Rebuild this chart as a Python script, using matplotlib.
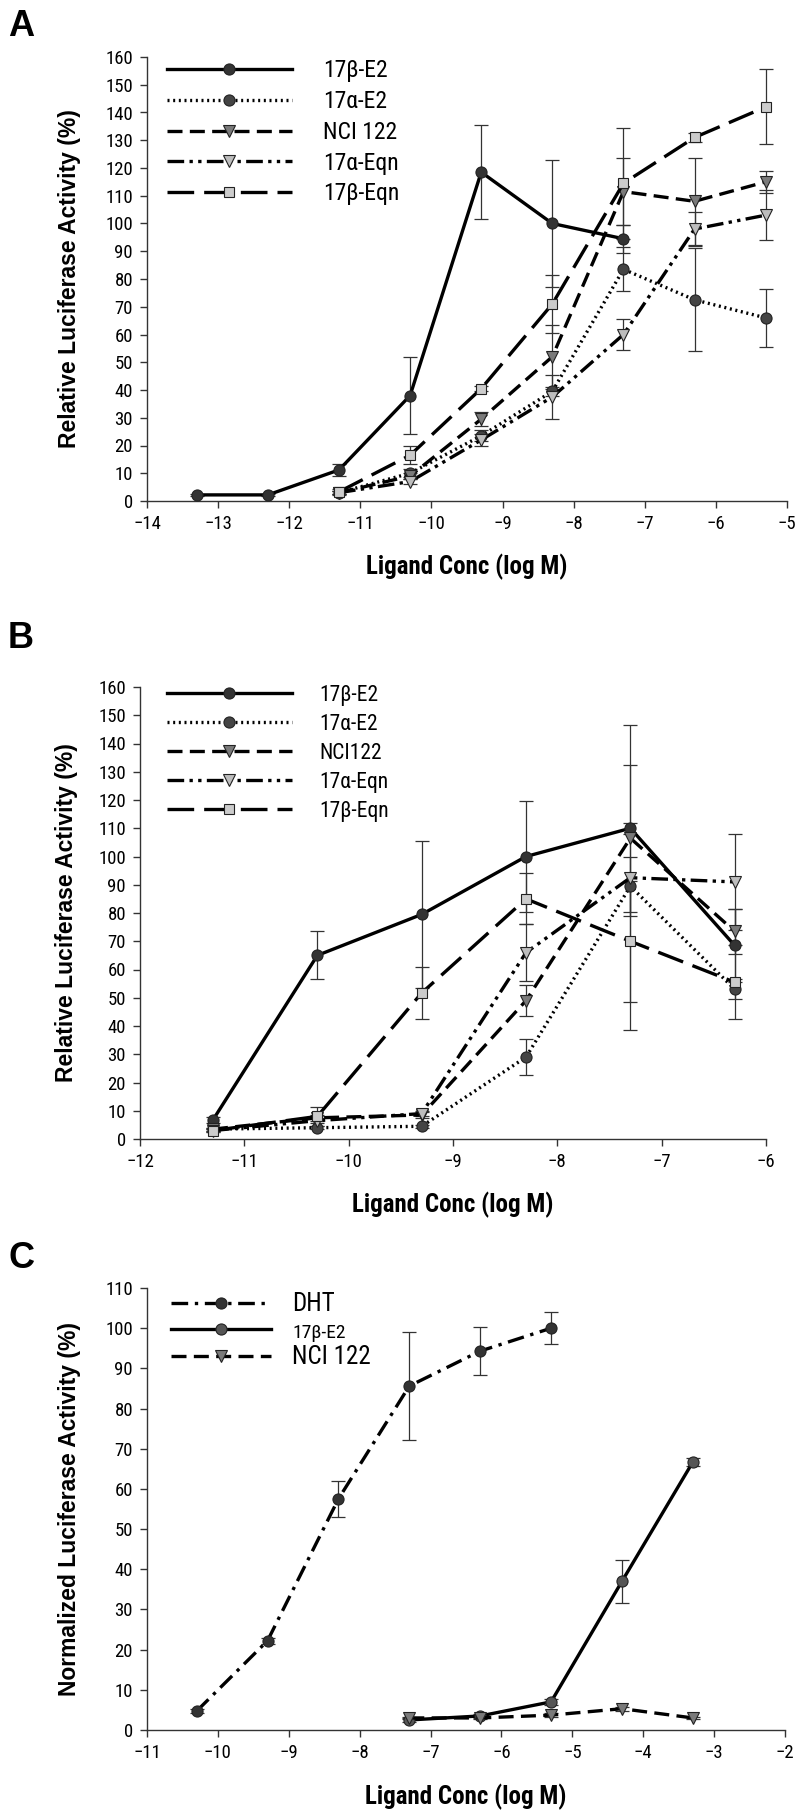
import numpy as np
import matplotlib.pyplot as plt
from matplotlib import font_manager as fm

# the original uses an Arial Narrow look; take a condensed face if one exists
names = {f.name for f in fm.fontManager.ttflist}
narrow = [n for n in ['Liberation Sans Narrow', 'Roboto Condensed', 'DejaVu Sans Condensed',
                      'Open Sans Condensed', 'Noto Sans Condensed'] if n in names]
plt.rcParams['font.family'] = narrow[:1] + ['Liberation Sans', 'DejaVu Sans']
BOLD_FAM = ['Liberation Sans', 'DejaVu Sans']

# ---- panel A data (log M, % activity, error)
a_x_e2b = [-13.3, -12.3, -11.3, -10.3, -9.3, -8.3, -7.3]
a_e2b = [2.2, 2.2, 11.2, 38, 118.5, 100, 94.5]
a_e2b_err = [0.5, 0.5, 2.2, 13.8, 17, 23, 5]
a_x = [-11.3, -10.3, -9.3, -8.3, -7.3, -6.3, -5.3]
a_e2a = [3, 10, 23.5, 39.5, 83.5, 72.5, 66]
a_e2a_err = [0.5, 1.5, 2, 1.5, 8, 18.5, 10.5]
a_nci = [3, 9, 29.5, 52, 111.5, 108, 115]
a_nci_err = [0.5, 1, 2.5, 11.5, 12, 15.7, 4]
a_eqna = [3, 7, 22, 37.5, 60, 98, 103]
a_eqna_err = [0.5, 1, 2, 8, 5.5, 6, 9]
a_eqnb = [3.3, 16.5, 40.5, 71, 114.5, 131, 142]
a_eqnb_err = [1, 3.2, 1, 10.5, 20, 1.5, 13.5]

# ---- panel B data
b_x = [-11.3, -10.3, -9.3, -8.3, -7.3, -6.3]
b_e2b = [6.8, 65, 79.5, 100, 110, 68.5]
b_e2b_err = [1, 8.5, 26, 19.5, 2, 13]
b_e2a = [3.5, 4, 4.5, 29, 89.5, 53]
b_e2a_err = [0.5, 0.5, 0.5, 6.3, 10.4, 3.5]
b_nci = [3.5, 7.5, 8.5, 49, 106.5, 73.5]
b_nci_err = [0.5, 1, 1, 5.5, 26, 8]
b_eqna = [3, 6.5, 9, 66, 92.5, 91]
b_eqna_err = [0.5, 1, 1, 10, 54, 17]
b_eqnb = [3, 8, 51.7, 85, 70, 55.5]
b_eqnb_err = [0.5, 3.5, 9.3, 9, 21.5, 13]

# ---- panel C data
c_x_dht = [-10.3, -9.3, -8.3, -7.3, -6.3, -5.3]
c_dht = [4.7, 22.2, 57.5, 85.6, 94.3, 100]
c_dht_err = [0.5, 0.8, 4.5, 13.5, 6, 4]
c_x = [-7.3, -6.3, -5.3, -4.3, -3.3]
c_e2b = [2.5, 3.5, 7, 37, 66.7]
c_e2b_err = [0.5, 0.5, 0.8, 5.3, 1]
c_nci = [3, 3, 3.7, 5.3, 3]
c_nci_err = [0.3, 0.3, 0.5, 0.5, 0.3]

LW = 2.4
styles = {
    'e2b': dict(ls='-', marker='o', mfc='#333333'),
    'e2a': dict(ls=(0, (0.6, 1.1)), marker='o', mfc='#444444'),
    'nci': dict(ls=(0, (4.5, 2.2)), marker='v', mfc='#7a7a7a'),
    'eqna': dict(ls=(0, (5, 1.6, 1, 1.6, 1, 1.6)), marker='v', mfc='#bdbdbd'),
    'eqnb': dict(ls=(0, (8, 3)), marker='s', mfc='#cccccc'),
    'dht': dict(ls=(0, (5, 2, 1, 2)), marker='o', mfc='#333333'),
    'e2b_c': dict(ls='-', marker='o', mfc='#555555'),
}

W, H = 800, 1814
fig = plt.figure(figsize=(W / 100, H / 100), dpi=100)


def px_axes(l, r, t, b):
    return fig.add_axes([l / W, 1 - b / H, (r - l) / W, (b - t) / H])


def series(ax, x, y, err, key, label):
    st = styles[key]
    ax.errorbar(x, y, yerr=err, fmt='none', ecolor='#333333', elinewidth=0.9,
                capsize=5, capthick=0.9, zorder=2)
    ln, = ax.plot(x, y, color='black', lw=LW, ls=st['ls'], marker=st['marker'],
                  ms=8 if st['marker'] != 's' else 7, mfc=st['mfc'], mec='#222222',
                  mew=0.8, label=label, zorder=3, dash_capstyle='butt')
    return ln


def style_axes(ax, xlim, ylim, ystep, ylabel, ylab_x, xlab_y):
    ax.set_xlim(*xlim)
    ax.set_ylim(*ylim)
    ax.set_xticks(np.arange(xlim[0], xlim[1] + 0.5, 1))
    ax.set_yticks(np.arange(ylim[0], ylim[1] + 1, ystep))
    for s in ['top', 'right']:
        ax.spines[s].set_visible(False)
    for s in ['left', 'bottom']:
        ax.spines[s].set_linewidth(1.0)
        ax.spines[s].set_color('#333333')
    ax.tick_params(direction='out', length=5, width=1, color='#333333',
                   labelsize=13.5, pad=5)
    ax.set_ylabel(ylabel, fontsize=16.5, fontweight='bold', family=BOLD_FAM)
    ax.yaxis.set_label_coords(ylab_x, 0.5)
    ax.set_xlabel('Ligand Conc (log M)', fontsize=18, fontweight='bold', va='center')
    ax.xaxis.set_label_coords(0.5, xlab_y)


# Panel A
axA = px_axes(147, 787, 57, 501)
hA = [
    series(axA, a_x_e2b, a_e2b, a_e2b_err, 'e2b', '17β-E2'),
    series(axA, a_x, a_e2a, a_e2a_err, 'e2a', '17α-E2'),
    series(axA, a_x, a_nci, a_nci_err, 'nci', 'NCI 122'),
    series(axA, a_x, a_eqna, a_eqna_err, 'eqna', '17α-Eqn'),
    series(axA, a_x, a_eqnb, a_eqnb_err, 'eqnb', '17β-Eqn'),
]
style_axes(axA, (-14, -5), (0, 160), 10, 'Relative Luciferase Activity (%)',
           -66 / 640, -66 / 444)
axA.legend(handles=hA, loc='upper left', bbox_to_anchor=(0.031, 0.995), frameon=False,
           fontsize=17, handlelength=5.3, handletextpad=1.3, labelspacing=0.33,
           borderpad=0, borderaxespad=0)

# Panel B
axB = px_axes(140, 766, 687, 1139)
hB = [
    series(axB, b_x, b_e2b, b_e2b_err, 'e2b', '17β-E2'),
    series(axB, b_x, b_e2a, b_e2a_err, 'e2a', '17α-E2'),
    series(axB, b_x, b_nci, b_nci_err, 'nci', 'NCI122'),
    series(axB, b_x, b_eqna, b_eqna_err, 'eqna', '17α-Eqn'),
    series(axB, b_x, b_eqnb, b_eqnb_err, 'eqnb', '17β-Eqn'),
]
style_axes(axB, (-12, -6), (0, 160), 10, 'Relative Luciferase Activity (%)',
           -62 / 626, -66 / 452)
axB.legend(handles=hB, loc='upper left', bbox_to_anchor=(0.043, 1.005), frameon=False,
           fontsize=15.5, handlelength=5.8, handletextpad=1.3, labelspacing=0.37,
           borderpad=0, borderaxespad=0)

# Panel C
axC = px_axes(147, 785, 1288, 1730)
hC = [
    series(axC, c_x_dht, c_dht, c_dht_err, 'dht', 'DHT'),
    series(axC, c_x, c_e2b, c_e2b_err, 'e2b_c', '17β-E2'),
    series(axC, c_x, c_nci, c_nci_err, 'nci', 'NCI 122'),
]
style_axes(axC, (-11, -2), (0, 110), 10, 'Normalized Luciferase Activity (%)',
           -66 / 638, -67 / 442)
legC = axC.legend(handles=hC, loc='upper left', bbox_to_anchor=(0.038, 0.99), frameon=False,
                  fontsize=18, handlelength=4.0, handletextpad=0.85, labelspacing=0.15,
                  borderpad=0, borderaxespad=0)
legC.get_texts()[1].set_fontsize(14)

# panel letters
for txt, y in [('A', 27), ('B', 638), ('C', 1259)]:
    fig.text(8 / W, 1 - y / H, txt, fontsize=26, fontweight='bold', va='center',
             ha='left', family=BOLD_FAM)

fig.savefig('out.png', dpi=100)
